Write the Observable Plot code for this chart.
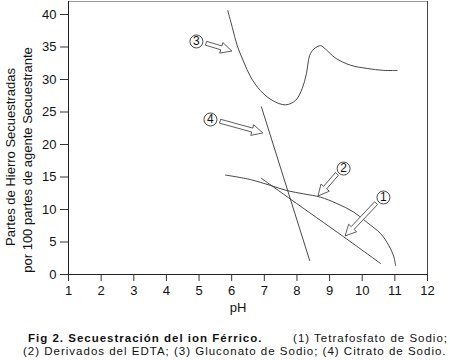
<!DOCTYPE html>
<html><head><meta charset="utf-8">
<script src="https://cdn.jsdelivr.net/npm/d3@7"></script>
<script src="https://cdn.jsdelivr.net/npm/@observablehq/plot@0.6"></script>
<style>
body{margin:0;background:#fff;font-family:"Liberation Sans",Arial,sans-serif;color:#111;}
#wrap{position:relative;width:450px;height:360px;}
#cap{position:absolute;top:332px;left:0;width:450px;font-size:11.5px;line-height:13px;letter-spacing:1px;}
#cap .l1{display:flex;justify-content:space-between;padding-left:28px;padding-right:2px;}
#cap .l2{padding-left:23px;white-space:nowrap;}
</style></head><body>
<div id="wrap"><div id="chart"></div>
<div id="cap"><div class="l1"><b>Fig 2. Secuestración del ion Férrico.</b><span>(1) Tetrafosfato de Sodio;</span></div>
<div class="l2">(2) Derivados del EDTA; (3) Gluconato de Sodio; (4) Citrato de Sodio.</div></div></div>
<script>
// (1) Tetrafosfato de Sodio
const ph1 = [6.91, 7.80, 9.43, 10.56];
const fe1 = [14.8, 11.6, 5.8, 1.7];
// (2) Derivados del EDTA
const ph2 = [5.81, 6.58, 7.19, 7.70, 8.21, 8.72, 9.23, 9.74, 10.15, 10.56, 10.81, 10.97, 11.02];
const fe2 = [15.3, 14.6, 13.7, 12.9, 12.4, 11.9, 10.9, 9.6, 8.0, 6.3, 4.5, 2.7, 1.4];
// (3) Gluconato de Sodio
const ph3 = [5.88, 6.02, 6.17, 6.37, 6.58, 6.88, 7.24, 7.65, 7.96, 8.16, 8.29, 8.39, 8.52, 8.72, 8.87, 9.18, 9.64, 10.15, 10.66, 11.07];
const fe3 = [40.6, 38.0, 35.2, 32.7, 30.4, 28.3, 26.8, 26.1, 26.8, 28.6, 30.9, 33.7, 34.7, 35.2, 34.7, 33.3, 32.2, 31.7, 31.4, 31.4];
// (4) Citrato de Sodio
const ph4 = [6.91, 8.39];
const fe4 = [25.8, 2.15];

// annotation labels
const labels = ["1", "2", "3", "4"];
const labelX = [10.65, 9.43, 4.92, 5.35];
const labelY = [11.85, 16.3, 35.85, 23.85];
const arrowX1 = [10.44, 9.24, 5.23, 5.66];
const arrowY1 = [10.9, 15.4, 35.5, 23.5];
const arrowX2 = [9.49, 8.66, 6.02, 6.97];
const arrowY2 = [5.85, 12.0, 34.3, 21.7];

const xTicks = [1,2,3,4,5,6,7,8,9,10,11,12];
const yTicks = [0,5,10,15,20,25,30,35,40];
const yLabel1 = "Partes de Hierro Secuestradas";
const yLabel2 = "por 100 partes de agente Secuestrante";
const xLabel = "pH";

const rows = [];
[[ph1, fe1, "1"], [ph2, fe2, "2"], [ph3, fe3, "3"], [ph4, fe4, "4"]].forEach(([xs, ys, s]) =>
  xs.forEach((x, i) => rows.push({x, y: ys[i], s})));
const notes = labels.map((t, i) => ({t, x: labelX[i], y: labelY[i], x1: arrowX1[i], y1: arrowY1[i], x2: arrowX2[i], y2: arrowY2[i]}));

function hollowArrows(index, scales) {
  const g = document.createElementNS("http://www.w3.org/2000/svg", "g");
  for (const n of notes) {
    const sx = scales.x(n.x1), sy = scales.y(n.y1), tx = scales.x(n.x2), ty = scales.y(n.y2);
    const L = Math.hypot(tx - sx, ty - sy), ux = (tx - sx) / L, uy = (ty - sy) / L;
    const nx = -uy, ny = ux, h = 11, hw = 5.5, sw = 2;
    const bx = tx - ux * h, by = ty - uy * h;
    const pts = [[sx + nx*sw, sy + ny*sw], [bx + nx*sw, by + ny*sw], [bx + nx*hw, by + ny*hw], [tx, ty],
      [bx - nx*hw, by - ny*hw], [bx - nx*sw, by - ny*sw], [sx - nx*sw, sy - ny*sw]];
    const p = document.createElementNS("http://www.w3.org/2000/svg", "polygon");
    p.setAttribute("points", pts.map(d => d.join(",")).join(" "));
    p.setAttribute("fill", "white");
    p.setAttribute("stroke", "#333");
    p.setAttribute("stroke-width", "0.8");
    g.appendChild(p);
  }
  return g;
}

const chart = Plot.plot({
  width: 450, height: 322,
  marginLeft: 68, marginRight: 23, marginTop: 1, marginBottom: 48,
  style: {fontFamily: '"Liberation Sans", Arial, sans-serif', fontSize: "13px", color: "#111"},
  x: {domain: [1, 12]},
  y: {domain: [0, 42]},
  marks: [
    Plot.axisX(xTicks, {tickSize: 7, tickPadding: 4, fontSize: 13, label: null, stroke: "#333"}),
    Plot.axisY(yTicks, {tickSize: 8, tickPadding: 4, fontSize: 13, label: null, stroke: "#333"}),
    Plot.ruleY([42], {stroke: "#999"}),
    Plot.ruleX([12], {stroke: "#444"}),
    Plot.ruleY([0], {stroke: "#222"}),
    Plot.ruleX([1], {stroke: "#222"}),
    Plot.line(rows, {x: "x", y: "y", z: "s", curve: "catmull-rom", stroke: "#333", strokeWidth: 0.9}),
    hollowArrows,
    Plot.dot(notes, {x: "x", y: "y", r: 6.5, stroke: "#333", fill: "white", strokeWidth: 0.9}),
    Plot.text(notes, {x: "x", y: "y", text: "t", fontSize: 12, fill: "#111"}),
    Plot.text([xLabel], {frameAnchor: "bottom", lineAnchor: "middle", textAnchor: "middle", dy: 33, dx: -10, fontSize: 13, fill: "#111"}),
    Plot.text([yLabel1], {frameAnchor: "left", rotate: -90, textAnchor: "middle", lineAnchor: "bottom", dx: -54, dy: 19, fontSize: 13, fill: "#111"}),
    Plot.text([yLabel2], {frameAnchor: "left", rotate: -90, textAnchor: "middle", lineAnchor: "bottom", dx: -37, dy: 22, fontSize: 13, fill: "#111"})
  ]
});
document.getElementById("chart").appendChild(chart);
</script>
</body></html>
